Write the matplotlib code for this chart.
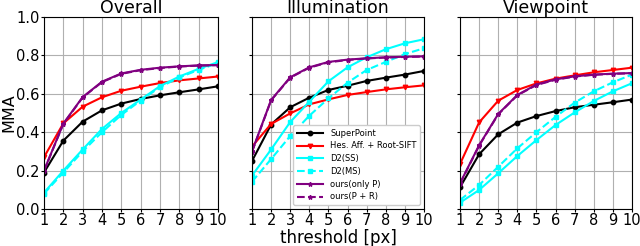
import matplotlib
matplotlib.use("Agg")
import matplotlib.pyplot as plt
import numpy as np

thresholds = list(range(1, 11))
titles = ["Overall", "Illumination", "Viewpoint"]

superpoint = [
    [0.19, 0.356, 0.455, 0.514, 0.549, 0.573, 0.592, 0.608, 0.623, 0.639],
    [0.25, 0.44, 0.53, 0.58, 0.62, 0.642, 0.667, 0.684, 0.70, 0.719],
    [0.113, 0.285, 0.389, 0.45, 0.484, 0.51, 0.53, 0.543, 0.556, 0.57],
]
hesaff = [
    [0.27, 0.446, 0.533, 0.582, 0.616, 0.637, 0.656, 0.670, 0.68, 0.69],
    [0.325, 0.443, 0.498, 0.545, 0.571, 0.594, 0.609, 0.623, 0.634, 0.644],
    [0.234, 0.451, 0.564, 0.62, 0.654, 0.679, 0.696, 0.712, 0.724, 0.736],
]
d2_ss = [
    [0.085, 0.20, 0.31, 0.417, 0.50, 0.57, 0.64, 0.69, 0.73, 0.765],
    [0.174, 0.31, 0.453, 0.559, 0.665, 0.738, 0.79, 0.832, 0.863, 0.884],
    [0.033, 0.099, 0.186, 0.276, 0.359, 0.4375, 0.503, 0.5625, 0.613, 0.655],
]
d2_ms = [
    [0.08, 0.19, 0.30, 0.40, 0.49, 0.565, 0.635, 0.685, 0.725, 0.76],
    [0.142, 0.26, 0.38, 0.486, 0.576, 0.658, 0.724, 0.766, 0.807, 0.837],
    [0.047, 0.125, 0.22, 0.316, 0.40, 0.48, 0.554, 0.613, 0.66, 0.70],
]
ours_p = [
    [0.20, 0.445, 0.583, 0.663, 0.706, 0.725, 0.736, 0.743, 0.748, 0.75],
    [0.30, 0.568, 0.686, 0.738, 0.766, 0.778, 0.785, 0.79, 0.793, 0.795],
    [0.134, 0.332, 0.495, 0.594, 0.648, 0.675, 0.691, 0.70, 0.705, 0.708],
]
ours_pr = [
    [0.198, 0.443, 0.581, 0.661, 0.704, 0.723, 0.734, 0.742, 0.747, 0.749],
    [0.298, 0.566, 0.684, 0.736, 0.764, 0.776, 0.784, 0.789, 0.792, 0.794],
    [0.132, 0.330, 0.493, 0.592, 0.646, 0.673, 0.690, 0.699, 0.704, 0.707],
]

series = [
    ("SuperPoint", superpoint, "black", "-", "o"),
    ("Hes. Aff. + Root-SIFT", hesaff, "red", "-", "v"),
    ("D2(SS)", d2_ss, "cyan", "-", "s"),
    ("D2(MS)", d2_ms, "cyan", "--", "s"),
    ("ours(only P)", ours_p, "purple", "-", "*"),
    ("ours(P + R)", ours_pr, "purple", "--", "*"),
]

fig = plt.figure(figsize=(6.4, 2.46), dpi=100)
lefts = [44 / 640, 252 / 640, 460 / 640]
widths = [174 / 640, 172 / 640, 172 / 640]
bottom = 37 / 246
height = 192 / 246
axes = []
for i in range(3):
    ax = fig.add_axes([lefts[i], bottom, widths[i], height])
    axes.append(ax)
    for name, data, color, ls, mk in series:
        ax.plot(thresholds, data[i], color=color, linestyle=ls, marker=mk,
                markersize=3.2, linewidth=1.5, label=name)
    ax.set_xlim(1, 10)
    ax.set_ylim(0, 1)
    ax.set_xticks(thresholds)
    ax.set_yticks([0, 0.2, 0.4, 0.6, 0.8, 1.0])
    ax.grid(True, color="#b0b0b0", linewidth=0.8)
    ax.set_axisbelow(True)
    ax.set_title(titles[i], fontsize=12.5, pad=2)
    ax.tick_params(labelsize=10.5, length=2, pad=1)
    if i > 0:
        ax.set_yticklabels([])
    for s in ax.spines.values():
        s.set_color("black")

axes[0].set_ylabel("MMA", fontsize=11.5)
axes[0].yaxis.set_label_coords(-0.16, 0.5)
axes[1].set_xlabel("threshold [px]", fontsize=12)
axes[1].xaxis.set_label_coords(0.5, -0.105)
axes[1].legend(loc="lower right", fontsize=6, handlelength=3.2,
               borderpad=0.4, labelspacing=0.45, framealpha=1)

fig.savefig("out.png", dpi=100)
